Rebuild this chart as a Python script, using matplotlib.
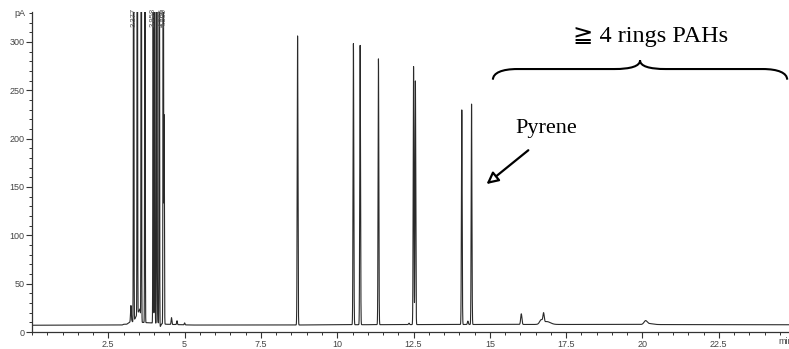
import matplotlib

matplotlib.use("Agg")

import matplotlib.pyplot as plt  # noqa: E402
import numpy as np  # noqa: E402
from matplotlib.patches import PathPatch  # noqa: E402
from matplotlib.path import Path  # noqa: E402
from matplotlib.ticker import MultipleLocator  # noqa: E402

# baseline of the detector signal (min, pA)
BASE_T = [0.0, 2.95, 3.0, 3.1, 3.2, 3.26, 3.31, 3.54, 3.57, 4.1, 4.4, 5.2,
          8.5, 10.0, 13.0, 15.0, 18.0, 24.8]
BASE_Y = [7.0, 7.2, 8.0, 8.0, 10.0, 12.0, 10.0, 24.0, 10.0, 9.0, 8.0, 7.2,
          7.2, 7.5, 7.7, 7.8, 7.8, 7.5]

# peaks: retention time (min), height above baseline (pA), width sigma (min)
PEAK_RT = [3.33, 3.45, 3.58, 3.70, 3.97, 4.02, 4.09, 4.17, 4.30, 4.33,
           8.70, 10.53, 10.75, 11.35, 12.50, 12.56, 14.08, 14.40]
PEAK_H = [700, 700, 700, 700, 700, 700, 700, 700, 700, 216,
          299, 291, 289, 275, 267, 252, 222, 228]
PEAK_W = [0.008] * 10 + [0.012] * 8

# small peaks and disturbances
SMALL_RT = [3.24, 4.11, 4.20, 4.57, 4.75, 5.00, 12.35, 14.28,
            16.03, 16.68, 16.76, 16.86, 20.10, 20.22]
SMALL_H = [16, 6, -3, 7, 4, 2, 1.5, 3.5, 11, 4, 9, 3, 3.5, 1]
SMALL_W = [0.012, 0.012, 0.02, 0.012, 0.012, 0.012, 0.015, 0.015,
           0.02, 0.05, 0.02, 0.12, 0.05, 0.12]

RT_LABELS = [(3.36, "3.377"), (3.97, "3.958"), (4.27, "4.266"), (4.33, "4.305")]

XMAX, YMAX = 24.8, 331


def trace():
    t = np.linspace(0, XMAX, 30000)
    y = np.interp(t, BASE_T, BASE_Y)
    for rt, h, w in zip(PEAK_RT + SMALL_RT, PEAK_H + SMALL_H, PEAK_W + SMALL_W):
        y += h * np.exp(-0.5 * ((t - rt) / w) ** 2)
    return t, y


def brace(ax, x0, x1, y, tip):
    xc = (x0 + x1) / 2
    flat = y + 11
    verts = [(x0, y), (x0, y + 7), (x0 + 0.3, flat), (x0 + 0.8, flat),
             (xc - 0.85, flat),
             (xc - 0.3, flat), (xc, flat + 3), (xc, tip),
             (xc, flat + 3), (xc + 0.3, flat), (xc + 0.85, flat),
             (x1 - 0.8, flat),
             (x1 - 0.3, flat), (x1, y + 7), (x1, y)]
    codes = [Path.MOVETO, Path.CURVE4, Path.CURVE4, Path.CURVE4, Path.LINETO,
             Path.CURVE4, Path.CURVE4, Path.CURVE4,
             Path.CURVE4, Path.CURVE4, Path.CURVE4, Path.LINETO,
             Path.CURVE4, Path.CURVE4, Path.CURVE4]
    ax.add_patch(PathPatch(Path(verts, codes), fc="none", ec="black", lw=1.5,
                           clip_on=False))


def main() -> None:
    plt.rcParams["font.family"] = ["Liberation Sans", "DejaVu Sans"]
    fig = plt.figure(figsize=(7.89, 3.49), dpi=100)
    ax = fig.add_axes([32 / 789, 17 / 349, 1 - 32 / 789, 320 / 349])

    t, y = trace()
    ax.plot(t, y, color="#2a2a2a", lw=0.8)

    ax.set_xlim(0, XMAX)
    ax.set_ylim(0, YMAX)
    for s in ("top", "right"):
        ax.spines[s].set_visible(False)
    for s in ("left", "bottom"):
        ax.spines[s].set_color("#333333")
        ax.spines[s].set_linewidth(0.9)
    ax.xaxis.set_minor_locator(MultipleLocator(0.5))
    ax.yaxis.set_major_locator(MultipleLocator(50))
    ax.yaxis.set_minor_locator(MultipleLocator(10))
    ax.set_xticks(np.arange(2.5, 24, 2.5))
    ax.set_xticklabels(["2.5", "5", "7.5", "10", "12.5", "15", "17.5", "20", "22.5"])
    ax.tick_params(which="major", length=4, width=0.8, color="#333333",
                   labelsize=6.5, labelcolor="#444444", pad=1.5)
    ax.tick_params(which="minor", length=2.5, width=0.7, color="#333333")

    for rt, lab in RT_LABELS:
        ax.text(rt, 1.012, lab, transform=ax.get_xaxis_transform(), rotation=90,
                ha="center", va="top", fontsize=5.5, color="#555555")

    fig.text(20 / 789, 1 - 14 / 349, "pA", ha="center", va="center",
             fontsize=6.5, color="#444444")
    fig.text(778 / 789, 1 - 341 / 349, "min", ha="left", va="center",
             fontsize=6.5, color="#444444")

    serif = ["Liberation Serif", "DejaVu Serif", "DejaVu Sans"]
    brace(ax, 15.1, 24.74, 261, 281)
    ax.text(20.25, 300, "≧ 4 rings PAHs", ha="center", va="baseline",
            fontsize=17.5, family=serif)
    ax.text(16.85, 206, "Pyrene", ha="center", va="baseline", fontsize=16,
            family=serif)
    ax.annotate("", xy=(14.89, 153), xytext=(16.26, 188),
                arrowprops=dict(arrowstyle="-|>,head_length=0.7,head_width=0.35",
                                fc="white", ec="black", lw=1.6,
                                shrinkA=0, shrinkB=0))

    fig.savefig("out.png", dpi=100)
    plt.close(fig)


if __name__ == "__main__":
    main()
